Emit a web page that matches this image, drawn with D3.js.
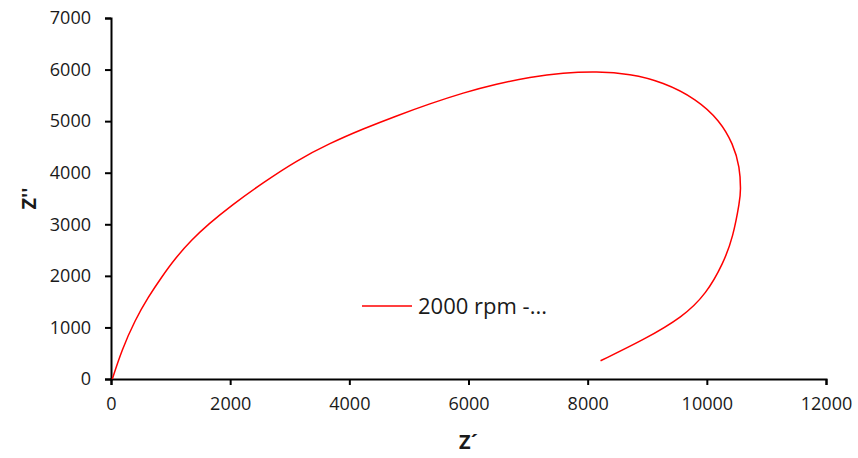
<!DOCTYPE html>
<html>
<head>
<meta charset="utf-8">
<script src="https://cdn.jsdelivr.net/npm/d3@7"></script>
<style>
body { margin: 0; background: #fff; }
text { font-family: "Open Sans", "Liberation Sans", sans-serif; fill: #1a1a1a; }
</style>
</head>
<body>
<div id="chart-area"></div>
<script>
// Nyquist plot, values
const zReal = [22, 180, 403, 626, 851, 1074, 1354, 1633, 2025, 2555, 3116, 3674, 4233, 4794, 5352, 5911, 6471, 7030, 7589, 8149, 8708, 9267, 9827, 10218, 10441, 10554, 10570, 10554, 10441, 10274, 9995, 9602, 8931, 8216]
const zImag = [0, 561, 1141, 1592, 1979, 2335, 2700, 3000, 3370, 3810, 4237, 4572, 4852, 5104, 5338, 5550, 5724, 5853, 5937, 5965, 5919, 5758, 5429, 5010, 4559, 4107, 3656, 3462, 2752, 2238, 1658, 1205, 754, 354]
const xTicks = [0, 2000, 4000, 6000, 8000, 10000, 12000]
const yTicks = [0, 1000, 2000, 3000, 4000, 5000, 6000, 7000]
const seriesName = '2000 rpm -...'

const MARGIN = {LEFT:111, RIGHT:32, TOP:18, BOTTOM:79}
const WIDTH = 858 - MARGIN.LEFT - MARGIN.RIGHT
const HEIGHT = 458 - MARGIN.TOP - MARGIN.BOTTOM

const svg = d3.select('#chart-area')
.append('svg')
.attr('width', 858)
.attr('height', 458)

const g = svg.append('g')
.attr('transform', `translate(${MARGIN.LEFT},${MARGIN.TOP})`)

const x = d3.scaleLinear()
.domain([0, 12000])
.range([0, WIDTH])

const y = d3.scaleLinear()
.domain([0, 7000])
.range([HEIGHT, 0])

const xAxisCall = d3.axisBottom(x)
.tickValues(xTicks)
.tickSize(6)
.tickPadding(12)
.tickFormat(d => d)
g.append('g')
.attr('class', 'x axis')
.attr('transform', `translate(0,${HEIGHT})`)
.call(xAxisCall)

const yAxisCall = d3.axisLeft(y)
.tickValues(yTicks)
.tickSize(6)
.tickPadding(14)
.tickFormat(d => d)
g.append('g')
.attr('class', 'y axis')
.call(yAxisCall)

g.selectAll('.axis path, .axis line')
.attr('stroke', '#000')
.attr('stroke-width', 2)
g.selectAll('.axis text')
.attr('font-size', '18px')
.attr('font-family', '"Open Sans", sans-serif')
.attr('fill', '#1a1a1a')

const data = zReal.map((d, i) => ({re: d, im: zImag[i]}))

// basis spline keeps the hand-read points from showing kinks
const line = d3.line()
.x(d => x(d.re))
.y(d => y(d.im))
.curve(d3.curveBasis)

g.append('path')
.datum(data)
.attr('fill', 'none')
.attr('stroke', '#ff0000')
.attr('stroke-width', 1.5)
.attr('d', line)

// legend
const legend = g.append('g')
.attr('transform', `translate(${362 - MARGIN.LEFT},${306 - MARGIN.TOP})`)
legend.append('line')
.attr('x1', 0).attr('x2', 50)
.attr('y1', 0).attr('y2', 0)
.attr('stroke', '#ff0000')
.attr('stroke-width', 1.5)
legend.append('text')
.attr('x', 56)
.attr('y', 8)
.attr('font-size', '22px')
.text(seriesName)

// axis titles
g.append('text')
.attr('class', 'x axis-label')
.attr('x', WIDTH / 2)
.attr('y', HEIGHT + 70)
.attr('text-anchor', 'middle')
.attr('font-size', '20px')
.attr('font-weight', 'bold')
.text('Z´')

g.append('text')
.attr('class', 'y axis-label')
.attr('x', -(HEIGHT / 2))
.attr('y', -75)
.attr('text-anchor', 'middle')
.attr('transform', 'rotate(-90)')
.attr('font-size', '20px')
.attr('font-weight', 'bold')
.text("Z''")
</script>
</body>
</html>
